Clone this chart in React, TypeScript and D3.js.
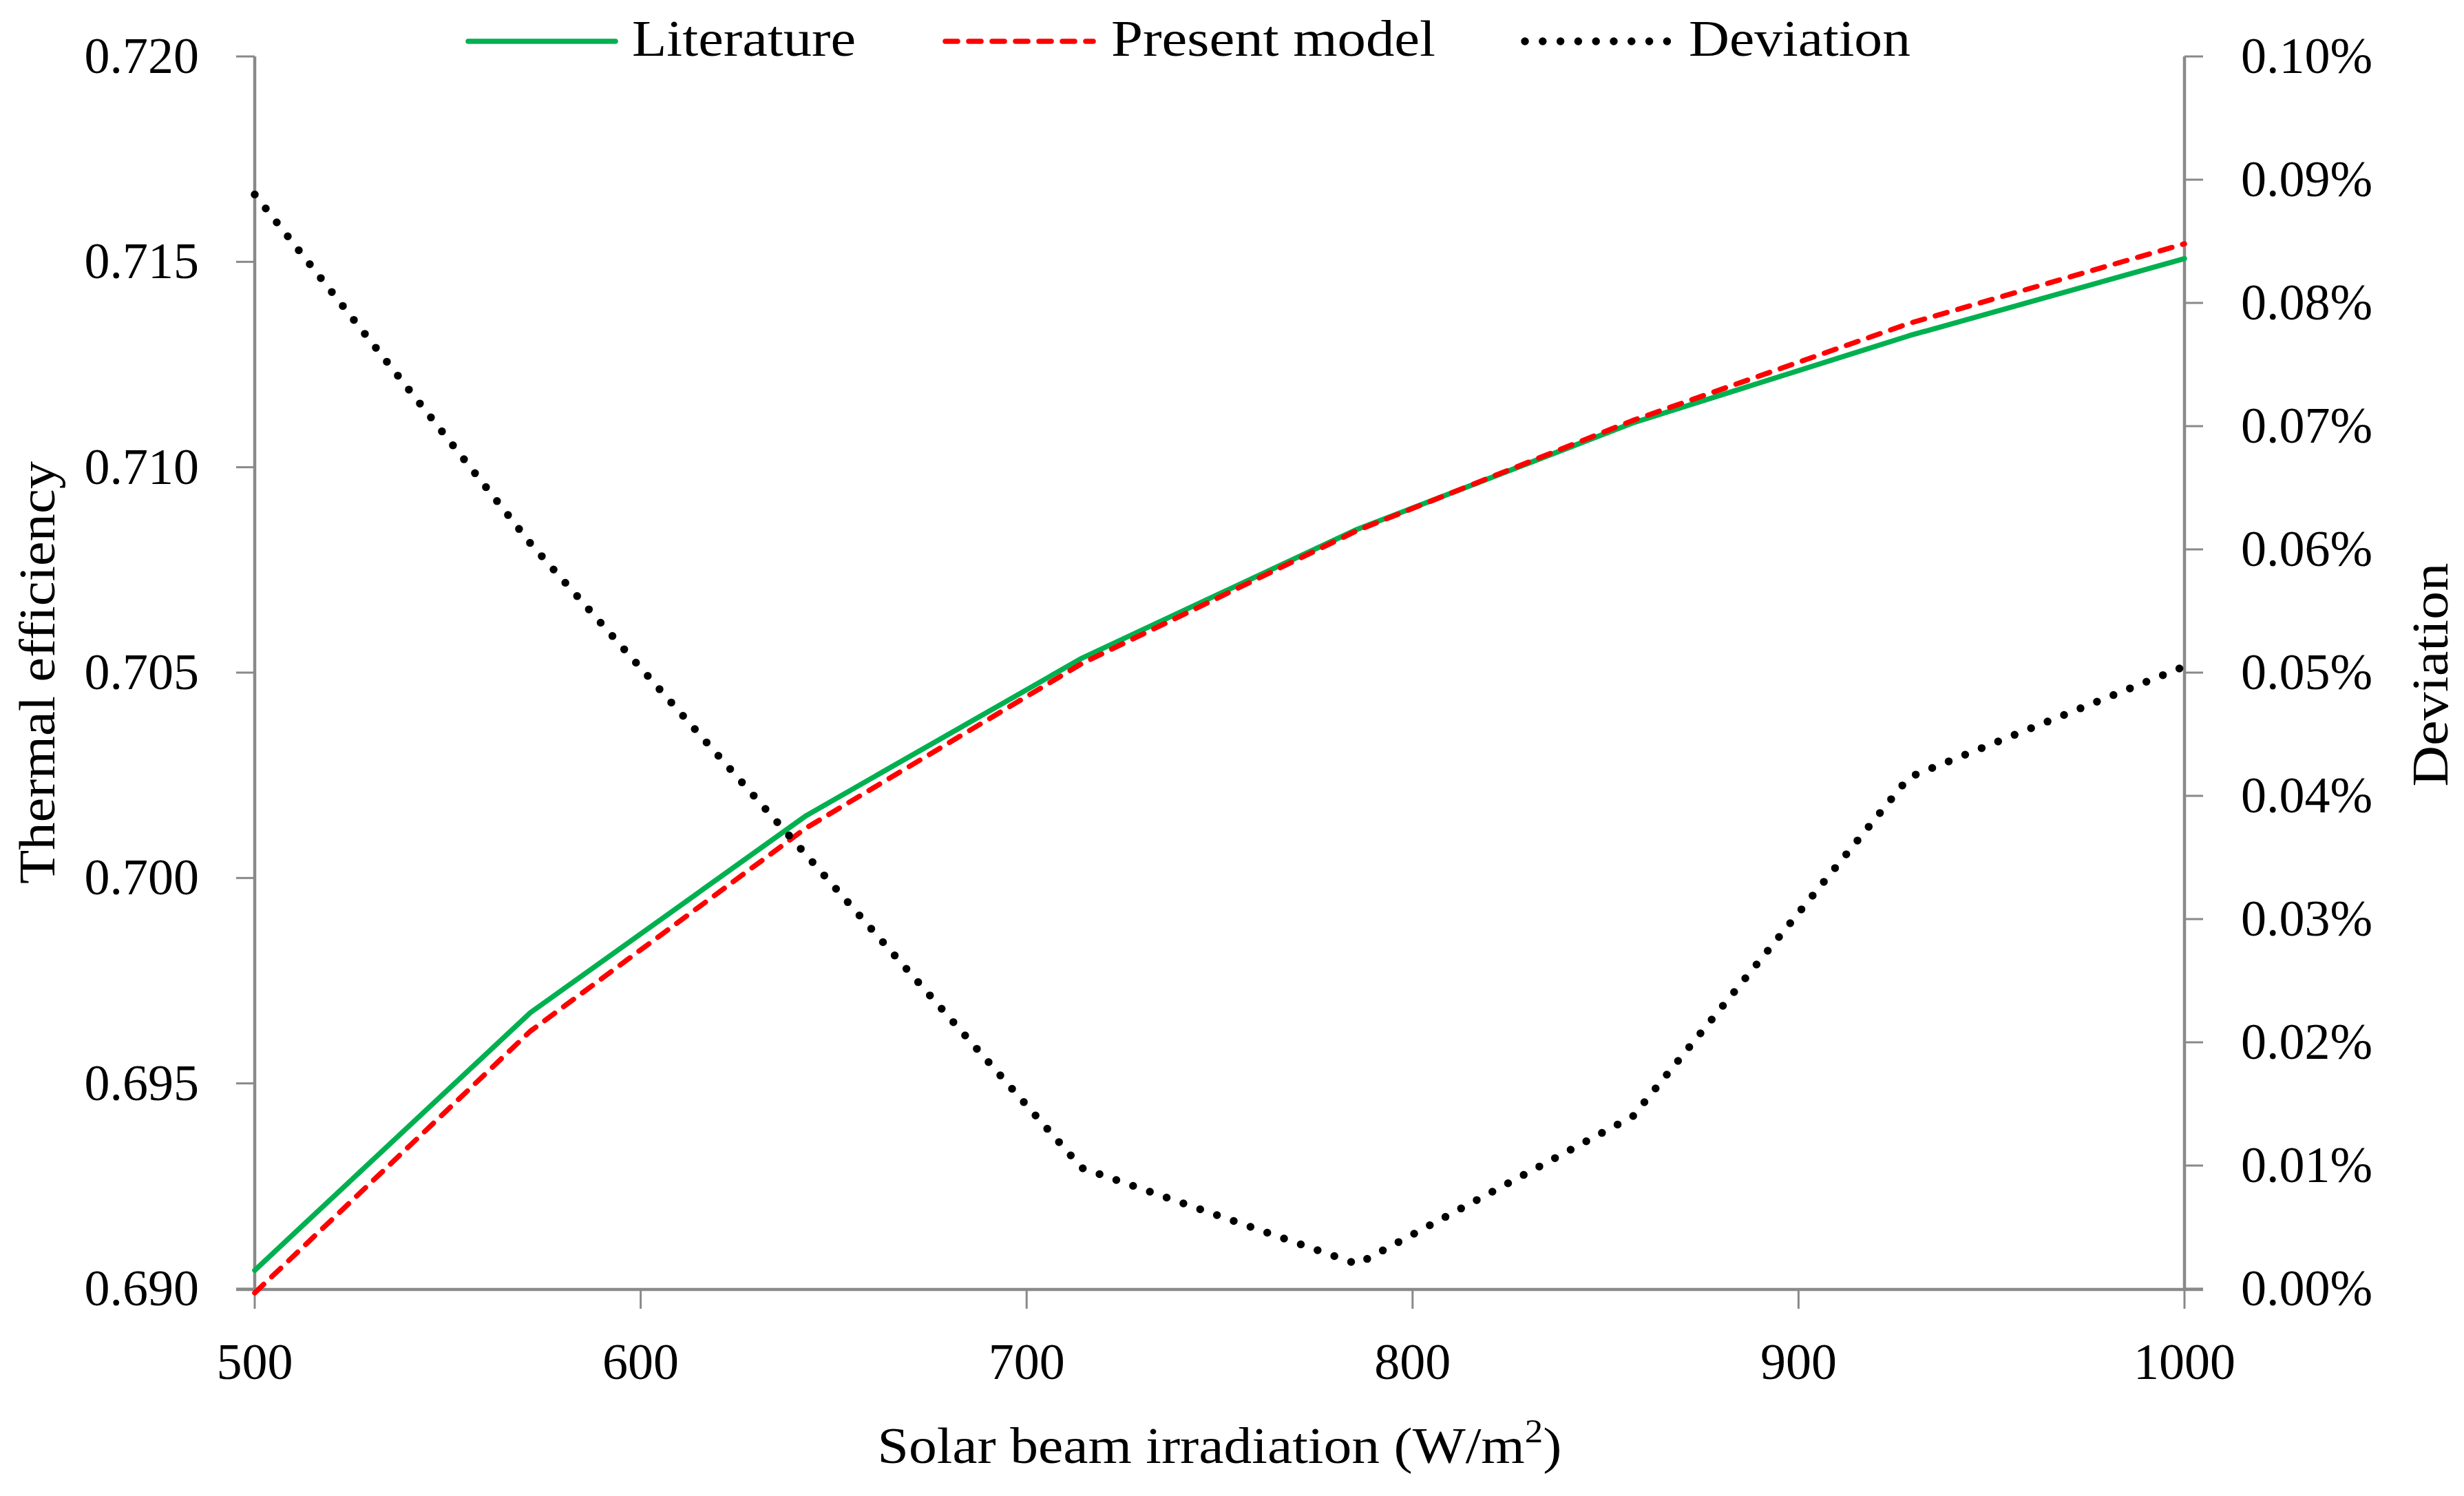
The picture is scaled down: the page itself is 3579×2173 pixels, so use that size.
import React from "react";
import * as d3 from "d3";

// ---- data ----
const irradiation = [500, 571.4, 642.9, 714.3, 785.7, 857.1, 928.6, 1000];
const literature = [0.69045, 0.69672, 0.70152, 0.70535, 0.70849, 0.71108, 0.7132, 0.71508];
const presentModel = [0.6899, 0.69627, 0.70122, 0.70522, 0.70846, 0.71114, 0.7135, 0.71544];
const deviationPct = [0.0888, 0.0605, 0.0352, 0.0098, 0.002, 0.014, 0.0415, 0.0505];

const xTicks = [500, 600, 700, 800, 900, 1000];
const yLeftTicks = [0.69, 0.695, 0.7, 0.705, 0.71, 0.715, 0.72];
const yRightTicks = [0, 0.01, 0.02, 0.03, 0.04, 0.05, 0.06, 0.07, 0.08, 0.09, 0.1];
const legendLabels = ["Literature", "Present model", "Deviation"];

const W = 3579;
const H = 2173;
const FONT = "'Liberation Serif', 'Times New Roman', serif";
const AXIS = "#898989";

export default function App() {
  const left = 370, right = 3173, top = 82, bottom = 1872;
  const x = d3.scaleLinear().domain([500, 1000]).range([left, right]);
  const yL = d3.scaleLinear().domain([0.69, 0.72]).range([bottom, top]);
  const yR = d3.scaleLinear().domain([0, 0.1]).range([bottom, top]);

  const lineL = d3.line<number>().x((_, i) => x(irradiation[i])).y((d) => yL(d));
  const lineR = d3.line<number>().x((_, i) => x(irradiation[i])).y((d) => yR(d));

  const styles = [
    { stroke: "#00B050", width: 7.5, dash: undefined as string | undefined },
    { stroke: "#FF0000", width: 7.5, dash: "18 16" },
    { stroke: "#000000", width: 11.5, dash: "0 25.8" },
  ];

  const legend = [
    { x1: 680, x2: 894, tx: 918, tl: 325 },
    { x1: 1373, x2: 1588, tx: 1614, tl: 471 },
    { x1: 2215, x2: 2422, tx: 2453, tl: 322 },
  ];

  const tick = 27;

  return (
    <svg
      width={W}
      height={H}
      viewBox={`0 0 ${W} ${H}`}
      style={{ position: "absolute", left: 0, top: 0, background: "#fff" }}
      fontFamily={FONT}
    >
      <rect x={0} y={0} width={W} height={H} fill="#fff" />

      {/* left axis */}
      <line x1={left} x2={left} y1={top} y2={bottom} stroke={AXIS} strokeWidth={4.5} />
      {yLeftTicks.map((t) => (
        <g key={"yl" + t}>
          <line x1={left - tick} x2={left} y1={yL(t)} y2={yL(t)} stroke={AXIS} strokeWidth={3} />
          <text x={289} y={yL(t) + 24} textAnchor="end" fontSize={74} fill="#000">
            {d3.format(".3f")(t)}
          </text>
        </g>
      ))}

      {/* right axis */}
      <line x1={right} x2={right} y1={top} y2={bottom} stroke={AXIS} strokeWidth={4.5} />
      {yRightTicks.map((t) => (
        <g key={"yr" + t}>
          <line x1={right} x2={right + tick} y1={yR(t)} y2={yR(t)} stroke={AXIS} strokeWidth={3} />
          <text x={3255} y={yR(t) + 24} textAnchor="start" fontSize={74} fill="#000">
            {t.toFixed(2) + "%"}
          </text>
        </g>
      ))}

      {/* bottom axis */}
      <line x1={left - tick} x2={right + tick} y1={bottom + 1} y2={bottom + 1} stroke={AXIS} strokeWidth={4.5} />
      {xTicks.map((t) => (
        <g key={"x" + t}>
          <line x1={x(t)} x2={x(t)} y1={bottom} y2={bottom + 29} stroke={AXIS} strokeWidth={3} />
          <text x={x(t)} y={2003} textAnchor="middle" fontSize={74} fill="#000">
            {t}
          </text>
        </g>
      ))}

      {/* series */}
      <path d={lineL(literature) || ""} fill="none" stroke={styles[0].stroke} strokeWidth={styles[0].width} strokeLinejoin="round" strokeLinecap="round" />
      <path d={lineL(presentModel) || ""} fill="none" stroke={styles[1].stroke} strokeWidth={styles[1].width} strokeDasharray={styles[1].dash} strokeLinecap="round" strokeLinejoin="round" />
      <path d={lineR(deviationPct) || ""} fill="none" stroke={styles[2].stroke} strokeWidth={styles[2].width} strokeDasharray={styles[2].dash} strokeLinecap="round" strokeLinejoin="round" />

      {/* axis titles */}
      <text
        x={(left + right) / 2}
        y={2125}
        textAnchor="middle"
        fontSize={74}
        fill="#000"
        textLength={994}
        lengthAdjust="spacingAndGlyphs"
      >
        Solar beam irradiation (W/m
        <tspan fontSize={48} dy={-30}>2</tspan>
        <tspan dy={30}>)</tspan>
      </text>
      <text
        transform={`translate(79, ${(top + bottom) / 2}) rotate(-90)`}
        textAnchor="middle"
        fontSize={74}
        fill="#000"
        textLength={614}
        lengthAdjust="spacingAndGlyphs"
      >
        Thermal efficiency
      </text>
      <text
        transform={`translate(3555, ${(top + bottom) / 2 + 3}) rotate(-90)`}
        textAnchor="middle"
        fontSize={74}
        fill="#000"
        textLength={325}
        lengthAdjust="spacingAndGlyphs"
      >
        Deviation
      </text>

      {/* legend */}
      {legendLabels.map((lab, i) => (
        <g key={lab}>
          <line
            x1={legend[i].x1}
            x2={legend[i].x2}
            y1={60}
            y2={60}
            stroke={styles[i].stroke}
            strokeWidth={styles[i].width}
            strokeDasharray={styles[i].dash}
            strokeLinecap="round"
          />
          <text x={legend[i].tx} y={81} fontSize={74} fill="#000" textLength={legend[i].tl} lengthAdjust="spacingAndGlyphs">
            {lab}
          </text>
        </g>
      ))}
    </svg>
  );
}
